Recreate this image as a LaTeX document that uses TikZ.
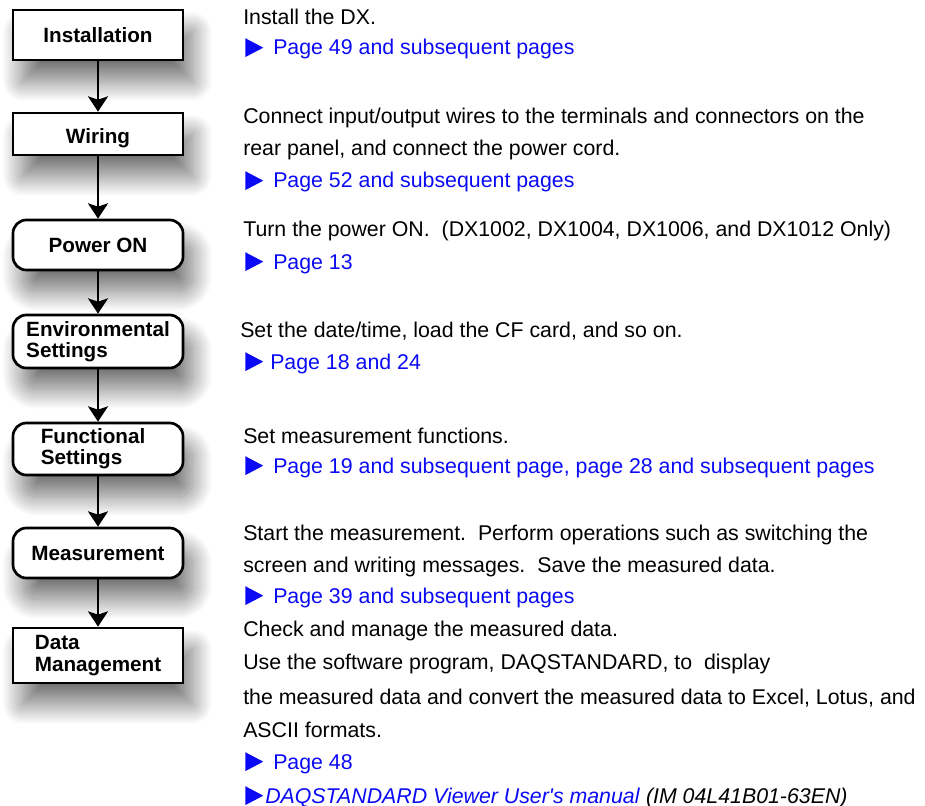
\documentclass[tikz,border=0pt]{standalone}
\usepackage{fontspec}
\setmainfont{Liberation Sans}
\usepackage{tikz}
\usetikzlibrary{arrows.meta, shadows.blur}
\definecolor{linkblue}{RGB}{10,10,245}
\tikzstyle{block} = [rectangle, minimum width=127.5pt, align=left, draw=black, line width=2pt, fill=white, font=\bfseries\fontsize{15.5}{16}\selectfont, blur shadow={shadow xshift=7pt, shadow yshift=-16pt, shadow blur radius=15pt, shadow blur steps=30, shadow opacity=55}]
\tikzstyle{roundblock} = [block, rounded corners=10pt]
\tikzstyle{arrow} = [-{Stealth[length=11.5pt, width=15pt, inset=2.5pt]}, line width=1.7pt]
\tikzstyle{desc} = [anchor=base west, inner sep=0pt, font=\fontsize{16}{18}\selectfont]
\tikzstyle{link} = [anchor=base west, inner sep=0pt, text=linkblue, font=\fontsize{16}{18}\selectfont]
\newcommand{\linktri}{\tikz[baseline=0pt]\fill[linkblue] (0pt,-1.6pt) -- (13.5pt,5.5pt) -- (0pt,12.6pt) -- cycle;}

\begin{document}
\begin{tikzpicture}[x=0.75pt, y=-0.75pt]

    \useasboundingbox (0,0) rectangle (925,806);

    \node (inst) [block, minimum height=37.5pt] at (98,35) {Installation};
    \node (wiring) [block, minimum height=31.5pt] at (98,134) {\raisebox{-3.5pt}[\height][\depth]{Wiring}};
    \node (power) [roundblock, minimum height=37.5pt] at (98,245) {Power ON};
    \node (env) [roundblock, minimum height=39.75pt] at (98,341.5) {Environmental\\Settings};
    \node (func) [roundblock, minimum height=39pt] at (98,449) {Functional\hspace*{7.5pt}\\Settings};
    \node (meas) [roundblock, minimum height=37.5pt] at (98,553) {Measurement};
    \node (data) [block, minimum height=41.25pt] at (98,655.5) {Data\\Management};

    \draw [arrow] (inst) -- (wiring);
    \draw [arrow] (wiring) -- (power);
    \draw [arrow] (power) -- (env);
    \draw [arrow] (env) -- (func);
    \draw [arrow] (func) -- (meas);
    \draw [arrow] (meas) -- (data);

    \node (inst1) [desc] at (243,25) {Install the DX.};
    \node (instp) [link] at (245,55) {\linktri\hspace{7.5pt}Page 49 and subsequent pages};

    \node (wiring1) [desc] at (243,124) {Connect input/output wires to the terminals and connectors on the};
    \node (wiring2) [desc] at (243,156) {rear panel, and connect the power cord.};
    \node (wiringp) [link] at (245,188) {\linktri\hspace{7.5pt}Page 52 and subsequent pages};

    \node (power1) [desc] at (243,237) {Turn the power ON.\ \ (DX1002, DX1004, DX1006, and DX1012 Only)};
    \node (powerp) [link] at (245,269) {\linktri\hspace{7.5pt}Page 13};

    \node (env1) [desc] at (240,337) {Set the date/time, load the CF card, and so on.};
    \node (envp) [link] at (245,369) {\linktri\hspace{5.25pt}Page 18 and 24};

    \node (func1) [desc] at (243,443) {Set measurement functions.};
    \node (funcp) [link] at (245,473) {\linktri\hspace{7.5pt}Page 19 and subsequent page, page 28 and subsequent pages};

    \node (meas1) [desc] at (243,540) {Start the measurement.\ \ Perform operations such as switching the};
    \node (meas2) [desc] at (243,572) {screen and writing messages.\ \ Save the measured data.};
    \node (measp) [link] at (245,603) {\linktri\hspace{7.5pt}Page 39 and subsequent pages};

    \node (data1) [desc] at (243,636) {Check and manage the measured data.};
    \node (data2) [desc] at (243,669) {Use the software program, DAQSTANDARD, to\ \ display};
    \node (data3) [desc] at (243,704) {the measured data and convert the measured data to Excel, Lotus, and};
    \node (data4) [desc] at (243,737) {ASCII formats.};
    \node (datap) [link] at (245,769) {\linktri\hspace{7.5pt}Page 48};
    \node (datam) [link] at (245,803) {\linktri\hspace{1.5pt}\textit{DAQSTANDARD Viewer User\textquotesingle s manual} {\color{black}\textit{(IM 04L41B01-63EN)}}};

\end{tikzpicture}
\end{document}
